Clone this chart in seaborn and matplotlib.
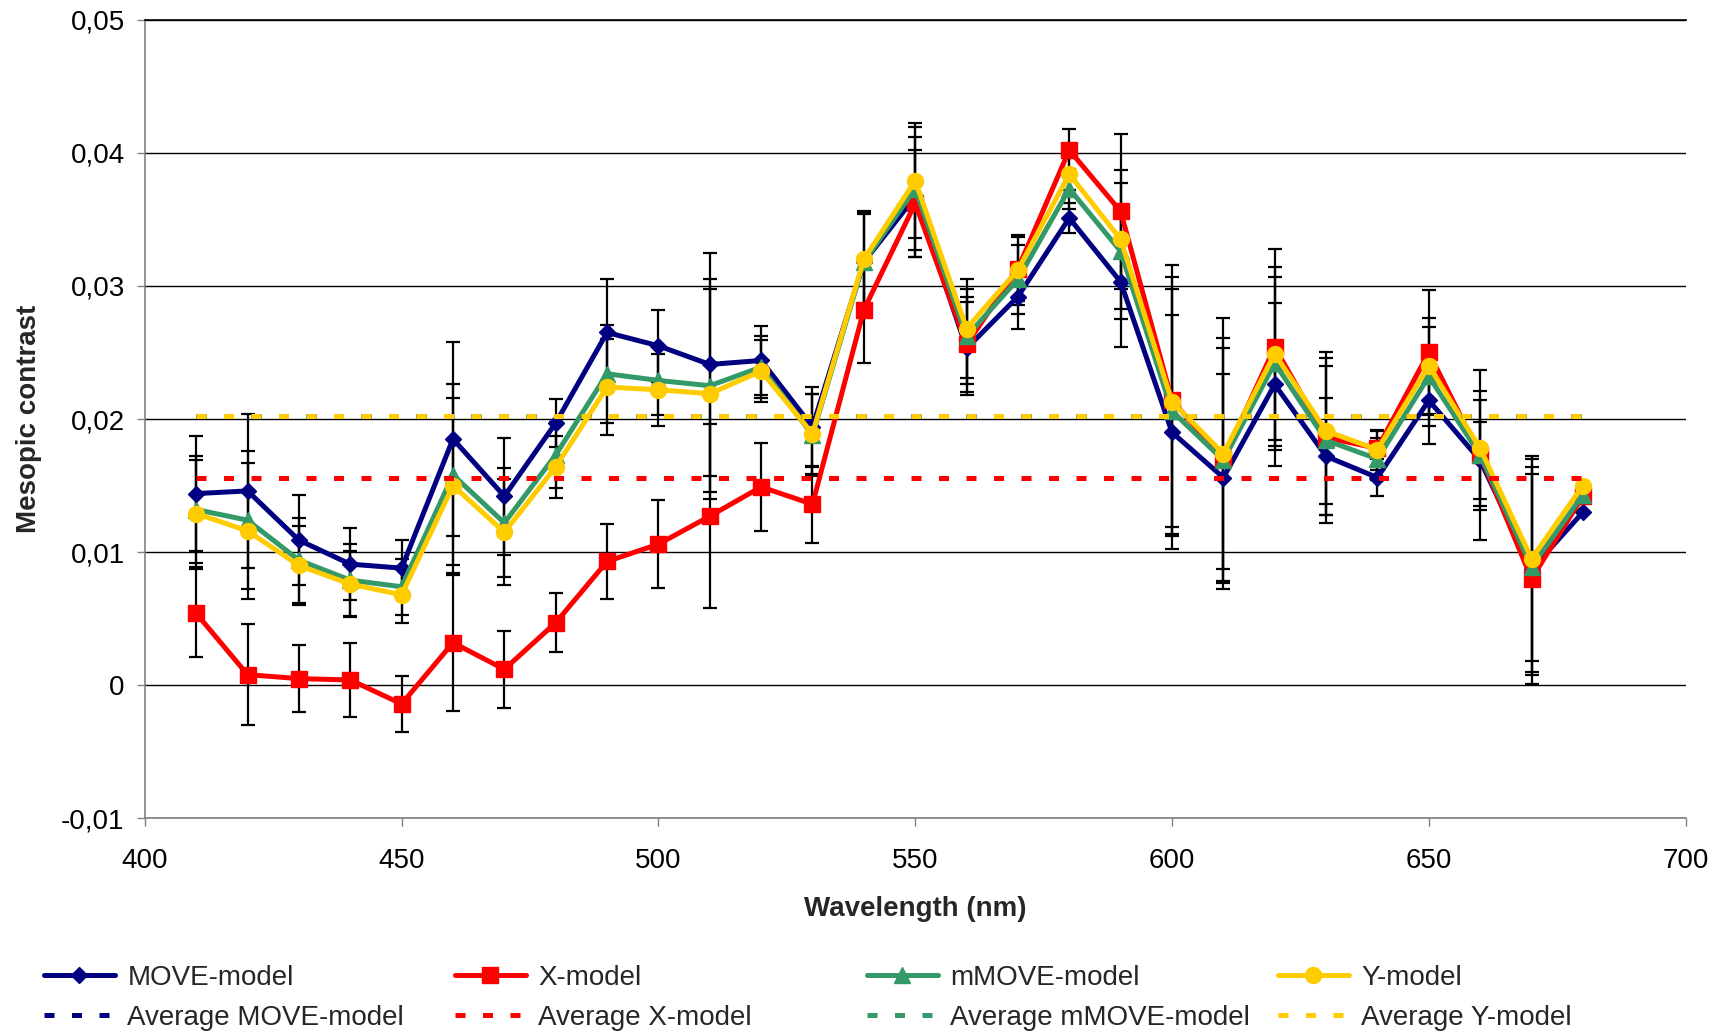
import numpy as np
import pandas as pd
import matplotlib
matplotlib.use("Agg")
import matplotlib.pyplot as plt
import seaborn as sns

# ---------------- data ----------------
wavelength = [410, 420, 430, 440, 450, 460, 470, 480, 490, 500, 510, 520, 530, 540,
              550, 560, 570, 580, 590, 600, 610, 620, 630, 640, 650, 660, 670, 680]

move_model = [0.0144, 0.0146, 0.0109, 0.0091, 0.0088, 0.0185, 0.0142, 0.0197, 0.0265, 0.0255,
              0.0241, 0.0244, 0.0194, 0.0318, 0.0367, 0.0253, 0.0292, 0.0351, 0.0303, 0.0190,
              0.0156, 0.0226, 0.0172, 0.0156, 0.0214, 0.0169, 0.0087, 0.0130]
x_model = [0.0054, 0.0008, 0.0005, 0.0004, -0.0014, 0.0032, 0.0012, 0.0047, 0.0093, 0.0106,
           0.0127, 0.0149, 0.0136, 0.0282, 0.0362, 0.0256, 0.0313, 0.0402, 0.0356, 0.0214,
           0.0170, 0.0254, 0.0186, 0.0178, 0.0250, 0.0173, 0.0080, 0.0142]
mmove_model = [0.0132, 0.0124, 0.0094, 0.0079, 0.0074, 0.0158, 0.0122, 0.0173, 0.0234, 0.0229,
               0.0225, 0.0239, 0.0188, 0.0318, 0.0373, 0.0262, 0.0305, 0.0373, 0.0326, 0.0206,
               0.0169, 0.0242, 0.0184, 0.0170, 0.0232, 0.0173, 0.0089, 0.0143]
y_model = [0.0129, 0.0116, 0.0090, 0.0076, 0.0068, 0.0150, 0.0115, 0.0164, 0.0224, 0.0222,
           0.0219, 0.0236, 0.0189, 0.0320, 0.0379, 0.0268, 0.0312, 0.0384, 0.0335, 0.0213,
           0.0174, 0.0249, 0.0191, 0.0177, 0.0240, 0.0178, 0.0095, 0.0150]

move_err = [0.0043, 0.0058, 0.0034, 0.0027, 0.0021, 0.0073, 0.0044, 0.0018, 0.0040, 0.0027,
            0.0084, 0.0026, 0.0030, 0.0038, 0.0045, 0.0035, 0.0024, 0.0011, 0.0049, 0.0088,
            0.0078, 0.0061, 0.0044, 0.0014, 0.0033, 0.0029, 0.0077, 0.0]
x_err = [0.0033, 0.0038, 0.0025, 0.0028, 0.0021, 0.0051, 0.0029, 0.0022, 0.0028, 0.0033,
         0.0069, 0.0033, 0.0029, 0.0040, 0.0040, 0.0036, 0.0024, 0.0016, 0.0058, 0.0102,
         0.0083, 0.0074, 0.0064, 0.0013, 0.0047, 0.0064, 0.0079, 0.0]
mmove_err = [0.0040, 0.0052, 0.0032, 0.0027, 0.0021, 0.0068, 0.0041, 0.0025, 0.0037, 0.0026,
             0.0080, 0.0023, 0.0031, 0.0036, 0.0046, 0.0036, 0.0026, 0.0015, 0.0051, 0.0092,
             0.0092, 0.0065, 0.0056, 0.0016, 0.0037, 0.0041, 0.0081, 0.0]
y_err = [0.0040, 0.0051, 0.0030, 0.0025, 0.0021, 0.0066, 0.0040, 0.0023, 0.0036, 0.0027,
         0.0079, 0.0023, 0.0030, 0.0035, 0.0043, 0.0037, 0.0026, 0.0012, 0.0052, 0.0094,
         0.0102, 0.0065, 0.0055, 0.0015, 0.0036, 0.0043, 0.0077, 0.0]

avg_move = 0.0202
avg_x = 0.0156
avg_mmove = 0.0202
avg_y = 0.0202

series_names = ["MOVE-model", "X-model", "mMOVE-model", "Y-model"]
ytick_values = [-0.01, 0.0, 0.01, 0.02, 0.03, 0.04, 0.05]
ytick_labels = ["-0,01", "0", "0,01", "0,02", "0,03", "0,04", "0,05"]
xtick_values = [400, 450, 500, 550, 600, 650, 700]

# ---------------- style ----------------
sns.set_theme(style="ticks")
plt.rcParams["font.family"] = ["Liberation Sans", "DejaVu Sans"]

fig = plt.figure(figsize=(17.2, 10.34), dpi=100)
ax = fig.add_axes([0.0842, 0.2085, 0.8958, 0.7725])

colors = ["#000080", "#FF0000", "#339966", "#FFCC00"]
markers = ["D", "s", "^", "o"]
msizes = [8.5, 11.5, 11.5, 11.5]
values = [move_model, x_model, mmove_model, y_model]
errors = [move_err, x_err, mmove_err, y_err]
averages = [avg_move, avg_x, avg_mmove, avg_y]

w = np.array(wavelength)

# error bars (below the lines)
for vals, err in zip(values, errors):
    v = np.array(vals)
    e = np.array(err)
    m = e > 0
    ax.errorbar(w[m], v[m], yerr=e[m], fmt="none", ecolor="black",
                elinewidth=1.6, capsize=4.7, capthick=1.6, zorder=2)

series_handles = []
for name, vals, c, mk, ms in zip(series_names, values, colors, markers, msizes):
    df = pd.DataFrame({"Wavelength": wavelength, "value": vals})
    sns.lineplot(data=df, x="Wavelength", y="value", ax=ax, color=c, marker=mk,
                 markersize=ms, markeredgecolor=c, markeredgewidth=1,
                 linewidth=3.6, zorder=3)
    series_handles.append(ax.lines[-1])

avg_handles = []
for avg, c in zip(averages, colors):
    dfa = pd.DataFrame({"Wavelength": [wavelength[0], wavelength[-1]], "value": [avg, avg]})
    sns.lineplot(data=dfa, x="Wavelength", y="value", ax=ax, color=c,
                 linestyle=(0, (2, 3.5)), linewidth=3.6, zorder=4)
    avg_handles.append(ax.lines[-1])

# ---------------- axes ----------------
ax.set_xlim(400, 700)
ax.set_ylim(-0.01, 0.05)
ax.set_xticks(xtick_values)
ax.set_xticklabels([str(v) for v in xtick_values])
ax.set_yticks(ytick_values)
ax.set_yticklabels(ytick_labels)
ax.tick_params(axis="both", labelsize=20, length=6, width=1, color="#808080",
               direction="out", labelcolor="black")
ax.tick_params(axis="y", pad=8.5)
ax.tick_params(axis="x", pad=15.5)

ax.yaxis.grid(True, color="black", linewidth=1)
ax.xaxis.grid(False)
ax.set_axisbelow(True)

for side in ["left", "bottom"]:
    ax.spines[side].set_color("#808080")
    ax.spines[side].set_linewidth(1.2)
ax.spines["right"].set_visible(False)
ax.spines["top"].set_color("black")
ax.spines["top"].set_linewidth(1.2)

ax.set_xlabel("Wavelength (nm)", fontsize=20, fontweight="bold")
ax.set_ylabel("Mesopic contrast", fontsize=20, fontweight="bold")
ax.xaxis.set_label_coords(0.5, -0.114)
ax.xaxis.label.set_va("center")
ax.yaxis.set_label_coords(-0.0751, 0.5)
ax.yaxis.label.set_va("center")

# ---------------- legend (4 columns, 2 rows) ----------------
legend_x = [0.0256, 0.2645, 0.5041, 0.7430]
for i, name in enumerate(series_names):
    fig.legend(handles=[series_handles[i], avg_handles[i]],
               labels=[name, "Average " + name],
               loc="lower left", bbox_to_anchor=(legend_x[i], 0.003),
               frameon=False, fontsize=20, numpoints=1,
               handlelength=2.55, handletextpad=0.45,
               borderpad=0, borderaxespad=0, labelspacing=0.5)

fig.savefig("out.png", dpi=100)
